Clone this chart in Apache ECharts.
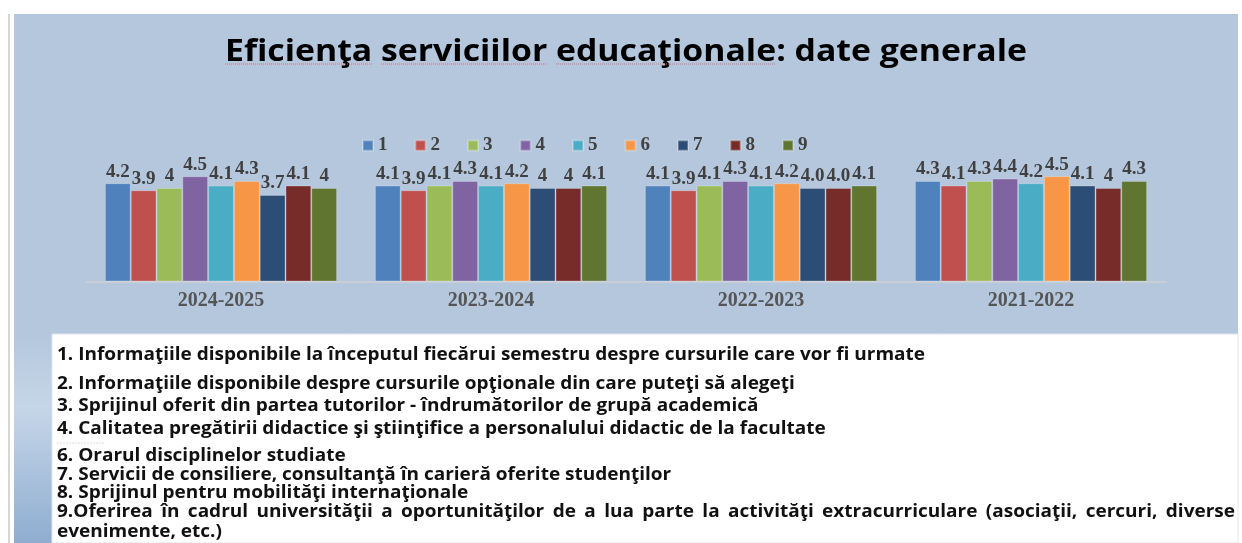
<!DOCTYPE html>
<html>
<head>
<meta charset="utf-8">
<script src="https://cdn.jsdelivr.net/npm/echarts@6/dist/echarts.min.js"></script>
<style>
  html, body { margin: 0; padding: 0; background: #fff; }
  #chart { width: 1242px; height: 543px; }
</style>
</head>
<body>
<div id="chart"></div>
<script>
// years on the x axis
const categories = ['2024-2025', '2023-2024', '2022-2023', '2021-2022'];
// legend entries (question numbers)
const itemNames = ['1', '2', '3', '4', '5', '6', '7', '8', '9'];
// one array per question, values per year
const item1 = [4.2, 4.1, 4.1, 4.3];
const item2 = [3.9, 3.9, 3.9, 4.1];
const item3 = [4.0, 4.1, 4.1, 4.3];
const item4 = [4.5, 4.3, 4.3, 4.4];
const item5 = [4.1, 4.1, 4.1, 4.2];
const item6 = [4.3, 4.2, 4.2, 4.5];
const item7 = [3.7, 4.0, 4.0, 4.1];
const item8 = [4.1, 4.0, 4.0, 4.0];
const item9 = [4.0, 4.1, 4.1, 4.3];
// 2022-2023 labels are written with one decimal ("4.0")
const fixedDecimalYear = [false, false, true, false];

const itemValues = [item1, item2, item3, item4, item5, item6, item7, item8, item9];
const colors = ['#4f81bd', '#c0504d', '#9bbb59', '#8064a2', '#4bacc6',
  '#f79646', '#2c4d75', '#772c2a', '#5f7530'];

const titleText = 'Eficienţa serviciilor educaţionale: date generale';
const notes = [
  '1. Informaţiile disponibile la începutul fiecărui semestru despre cursurile care vor fi urmate',
  '2. Informaţiile disponibile despre cursurile opţionale din care puteţi să alegeţi',
  '3. Sprijinul oferit din partea tutorilor - îndrumătorilor de grupă academică',
  '4. Calitatea pregătirii didactice şi ştiinţifice a personalului didactic de la facultate',
  '6. Orarul disciplinelor studiate',
  '7. Servicii de consiliere, consultanţă în carieră oferite studenţilor',
  '8. Sprijinul pentru mobilităţi internaţionale',
  '9.Oferirea în cadrul universităţii a oportunităţilor de a lua parte la activităţi extracurriculare (asociaţii, cercuri, diverse',
  'evenimente, etc.)'
];
const noteY = [355, 384, 406, 429, 456, 475, 493, 512, 532];

// Calibri is not installed: use Open Sans squeezed to the same width
const ctx = document.createElement('canvas').getContext('2d');
function measure(text, font) { ctx.font = font; return ctx.measureText(text).width; }
const sansFamily = 'Open Sans';
const titleFont = 'bold 30px ' + sansFamily;
const titleScale = 802 / measure(titleText, titleFont);
const noteFont = 'bold 17px ' + sansFamily;
const noteScale = 868 / measure(notes[0], noteFont);

const graphics = [
  { type: 'rect', shape: { x: 14, y: 14, width: 1224, height: 529 }, style: { fill: '#b4c7dd' }, z: -10 },
  { type: 'rect', shape: { x: 14, y: 334, width: 38, height: 209 },
    style: { fill: new echarts.graphic.LinearGradient(0, 0, 0, 1, [
      { offset: 0, color: '#b4c7dd' }, { offset: 0.35, color: '#c6d6e8' }, { offset: 1, color: '#8fadd0' }]) }, z: -9 },
  { type: 'rect', shape: { x: 8, y: 14, width: 2, height: 529 }, style: { fill: '#d6d6d6' }, z: -10 },
  { type: 'rect', shape: { x: 52, y: 334, width: 1186, height: 209 }, style: { fill: '#ffffff', stroke: '#dfe6ee', lineWidth: 1 }, z: -8 },
  { type: 'line', shape: { x1: 57, y1: 443, x2: 105, y2: 443 }, style: { stroke: '#dddddd', lineWidth: 1, lineDash: [2, 1] } },
  { type: 'text', x: 626, y: 52, scaleX: titleScale,
    style: { text: titleText, font: titleFont, fill: '#000', align: 'center', verticalAlign: 'middle' } }
];

// spell-check underline under the first words of the title
const titleLeft = 626 - measure(titleText, titleFont) * titleScale / 2;
[['', 'Eficienţa'], ['Eficienţa ', 'serviciilor'], ['Eficienţa serviciilor ', 'educaţionale']].forEach(([pre, word]) => {
  const x1 = titleLeft + measure(pre, titleFont) * titleScale;
  const x2 = x1 + measure(word, titleFont) * titleScale;
  graphics.push({ type: 'line', shape: { x1: x1, y1: 64, x2: x2, y2: 64 },
    style: { stroke: '#e05a5a', lineWidth: 1, lineDash: [1, 1], opacity: 0.8 } });
});

notes.forEach((line, i) => {
  if (i === 7) {
    // justified line: spread the words between the two margins
    const words = line.split(' ');
    const widths = words.map(w => measure(w, noteFont) * noteScale);
    const total = widths.reduce((a, b) => a + b, 0);
    const gap = (1235 - 57 - total) / (words.length - 1);
    let x = 57;
    words.forEach((w, k) => {
      graphics.push({ type: 'text', x: x, y: noteY[i], scaleX: noteScale,
        style: { text: w, font: noteFont, fill: '#111', verticalAlign: 'middle' } });
      x += widths[k] + gap;
    });
  } else {
    graphics.push({ type: 'text', x: 57, y: noteY[i], scaleX: noteScale,
      style: { text: line, font: noteFont, fill: '#111', verticalAlign: 'middle' } });
  }
});

const chart = echarts.init(document.getElementById('chart'));
chart.setOption({
  backgroundColor: '#ffffff',
  animation: false,
  legend: {
    data: itemNames,
    left: 357,
    top: 131,
    icon: 'rect',
    itemWidth: 10,
    itemHeight: 10,
    itemGap: 27,
    textStyle: { fontFamily: 'Liberation Serif', fontWeight: 'bold', fontSize: 19, color: '#404040' }
  },
  grid: { left: 86, right: 76, top: 164.5, bottom: 261.5 },
  xAxis: {
    type: 'category',
    data: categories,
    axisLine: { lineStyle: { color: '#c9ced6', width: 2 } },
    axisTick: { show: false },
    axisLabel: { margin: 9, fontFamily: 'Liberation Serif', fontWeight: 'bold', fontSize: 20, color: '#555' }
  },
  yAxis: { type: 'value', min: 0, max: 5, show: false },
  series: itemNames.map((name, i) => ({
    name: name,
    type: 'bar',
    data: itemValues[i],
    barGap: '0%',
    barCategoryGap: '14%',
    itemStyle: { color: colors[i], borderColor: 'rgba(255,255,255,0.25)', borderWidth: 1 },
    label: {
      show: true,
      position: 'top',
      distance: 2,
      fontFamily: 'Liberation Serif',
      fontWeight: 'bold',
      fontSize: 19,
      color: '#404040',
      formatter: p => fixedDecimalYear[p.dataIndex] ? p.value.toFixed(1) : String(p.value)
    }
  })),
  graphic: graphics
});
</script>
</body>
</html>
